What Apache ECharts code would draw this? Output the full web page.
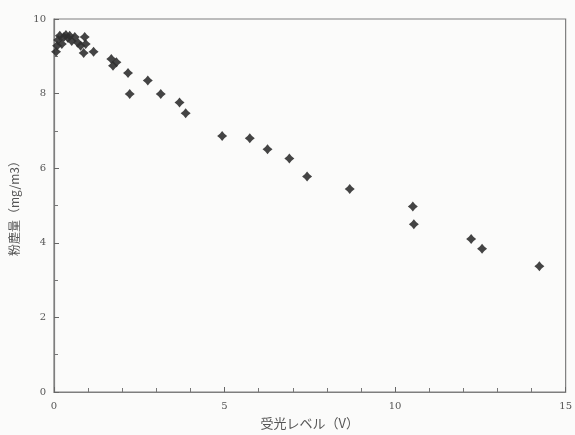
<!DOCTYPE html>
<html>
<head>
<meta charset="utf-8">
<script src="https://cdn.jsdelivr.net/npm/echarts@6/dist/echarts.min.js"></script>
<style>
html,body{margin:0;padding:0;background:#fbfbfa;}
#c{width:575px;height:435px;}
</style>
</head>
<body>
<div id="c"></div>
<script>
const xValues = [0.06,0.09,0.12,0.17,0.23,0.29,0.35,0.41,0.46,0.52,0.61,0.70,0.78,0.90,0.93,0.87,1.16,
  1.68,1.83,1.73,2.17,2.75,2.22,3.13,3.68,3.86,4.93,5.74,6.26,6.90,7.42,8.67,10.52,10.55,12.23,12.55,14.23];
const yValues = [9.12,9.28,9.44,9.55,9.33,9.52,9.57,9.49,9.55,9.41,9.52,9.36,9.28,9.52,9.33,9.09,9.12,
  8.93,8.84,8.75,8.55,8.35,7.99,7.99,7.76,7.47,6.86,6.80,6.51,6.26,5.78,5.44,4.97,4.50,4.10,3.84,3.37];
const xTicks = [0,5,10,15];
const yTicks = [0,2,4,6,8,10];
const xName = '受光レベル（V）';
const yName = '粉塵量（mg/m3）';

const points = xValues.map((x,i)=>[x,yValues[i]]);
const chart = echarts.init(document.getElementById('c'));
const axisCol = '#7e7e7e';
const textCol = '#555555';
chart.setOption({
  backgroundColor:'#fbfbfa',
  animation:false,
  grid:{left:52,right:5,top:19,bottom:41,show:true,borderColor:axisCol,borderWidth:1.2,backgroundColor:'transparent'},
  xAxis:{
    type:'value',min:xTicks[0],max:xTicks[xTicks.length-1],interval:5,
    name:xName,nameLocation:'middle',nameGap:25,
    nameTextStyle:{color:textCol,fontSize:13,fontFamily:'Noto Sans CJK JP'},
    axisLine:{show:true,lineStyle:{color:axisCol,width:1.2}},
    axisTick:{show:true,inside:true,length:5,lineStyle:{color:'#666',width:1}},
    minorTick:{show:true,splitNumber:5,length:4,lineStyle:{color:'#777',width:1}},
    splitLine:{show:false},
    axisLabel:{color:textCol,fontSize:10,fontFamily:'DejaVu Serif',margin:9,
      formatter:v=>xTicks.includes(v)?String(v):''}
  },
  yAxis:{
    type:'value',min:yTicks[0],max:yTicks[yTicks.length-1],interval:2,
    name:yName,nameLocation:'middle',nameGap:34,
    nameTextStyle:{color:textCol,fontSize:12,fontFamily:'Noto Sans CJK JP'},
    axisLine:{show:true,lineStyle:{color:axisCol,width:1.2}},
    axisTick:{show:true,inside:true,length:5,lineStyle:{color:'#666',width:1}},
    minorTick:{show:true,splitNumber:2,length:4,lineStyle:{color:'#777',width:1}},
    splitLine:{show:false},
    axisLabel:{color:textCol,fontSize:10,fontFamily:'DejaVu Serif',margin:8,
      formatter:v=>yTicks.includes(v)?String(v):''}
  },
  series:[{
    type:'scatter',
    data:points,
    symbol:'path://M0,-10 L4.5,-4.5 L10,0 L4.5,4.5 L0,10 L-4.5,4.5 L-10,0 L-4.5,-4.5 Z',
    symbolSize:10,
    itemStyle:{color:'#303030',opacity:0.9}
  }]
});
</script>
</body>
</html>
